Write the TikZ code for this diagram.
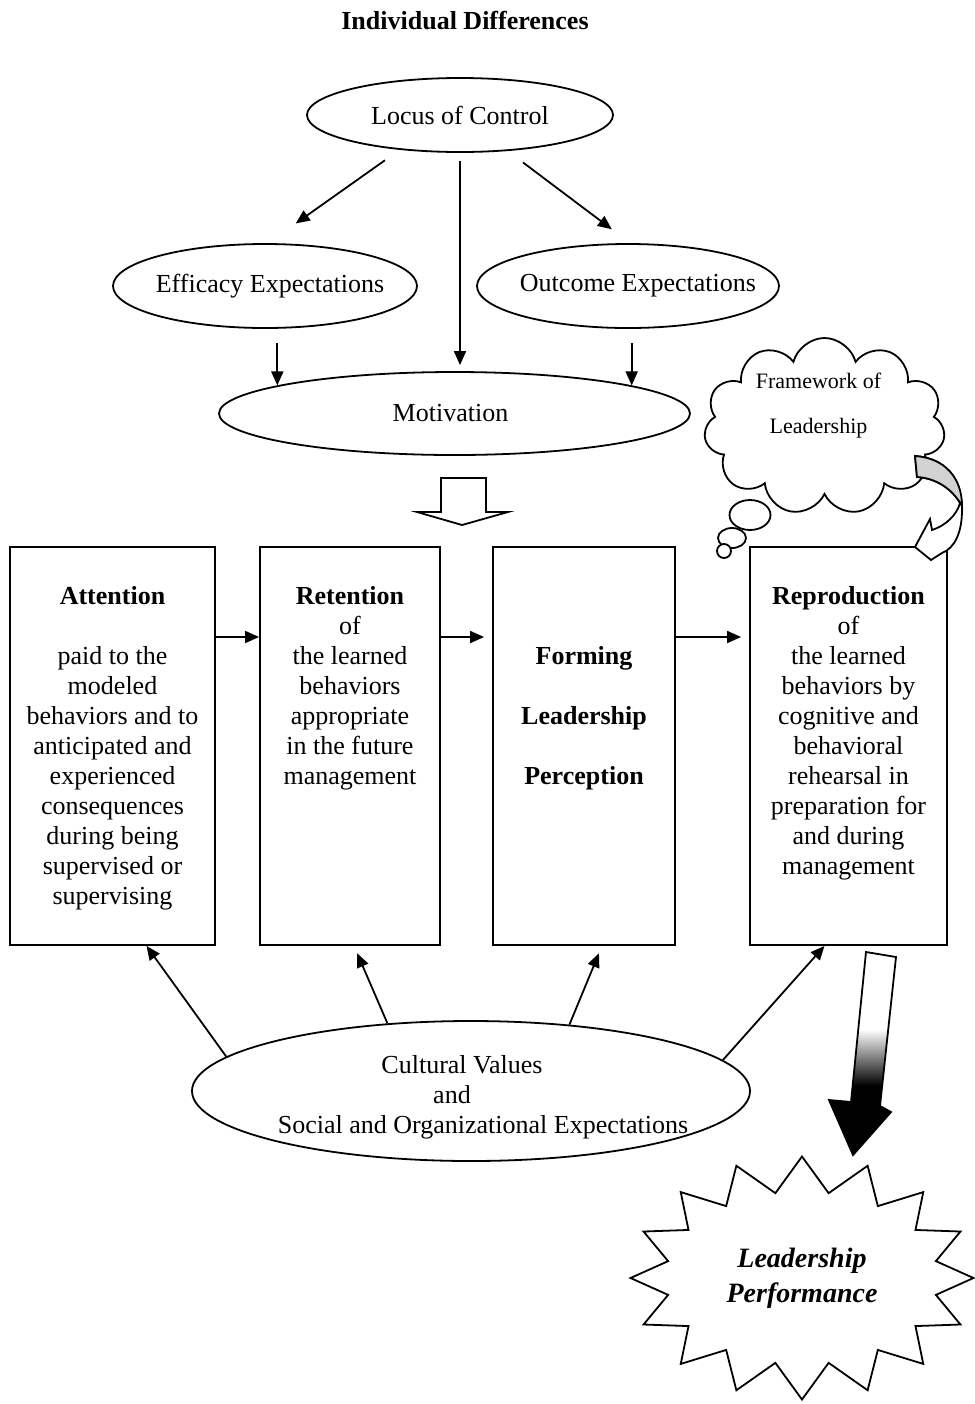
\documentclass[tikz,border=0pt]{standalone}
\usepackage{fontspec}
\setmainfont{Liberation Serif}
\usetikzlibrary{positioning,arrows.meta,shapes.geometric,shapes.symbols,calc}

% dark at the tip, fading to white towards the tail
\pgfdeclareverticalshading{sinkfade}{100bp}{color(0bp)=(black); color(42bp)=(black); color(56bp)=(white); color(100bp)=(white)}

\begin{document}
\begin{tikzpicture}[
        x=0.5pt, y=-0.5pt,
        line width=0.9pt,
        >={Triangle[length=7pt,width=6pt]},
        every node/.style={font=\fontsize{13}{15}\selectfont},
        oval/.style={draw, ellipse, inner xsep=-12pt, inner ysep=0pt, fill=white},
        stage/.style={draw, rectangle, minimum height=199pt, inner sep=0pt},
        stagetxt/.style={anchor=north, align=center, inner sep=0pt},
        link/.style={->}
    ]
        \useasboundingbox (0,0) rectangle (975,1404);

        \node[font=\fontsize{13}{15}\selectfont\bfseries] (title) at (465,20) {Individual Differences};

        % individual differences
        \node[oval, minimum width=153pt, minimum height=37pt] (locus) at (460,115) {Locus of Control};
        \node[oval, minimum width=152pt, minimum height=42pt] (eff)  at (265,286) {\hspace*{5pt}Efficacy Expectations};
        \node[oval, minimum width=151pt, minimum height=42pt] (outc) at (628,286) {\hspace*{10pt}Outcome Expectations};
        \node[oval, minimum width=235.5pt, minimum height=41.5pt] (motiv) at (454.5,413.5) {Motivation\hspace*{4pt}};

        \draw[link, shorten <=9pt, shorten >=17pt] (locus.210) -- (eff.86);
        \draw[link, shorten <=9.5pt, shorten >=11.5pt] (locus.323) -- (outc.87);
        \draw[link, shorten <=4pt, shorten >=3pt] (locus.south) -- (locus.south |- motiv.north);
        \draw[link, shorten <=7pt] (eff.south -| motiv.171) -- (motiv.171);
        \draw[link, shorten <=7pt] (outc.south -| motiv.9) -- (motiv.9);

        % hollow block arrow down to the stages
        \draw[fill=white] (441,478) -- (486,478) -- (486,512) -- (508,512) -- (462,525)
            -- (417,512) -- (441,512) -- cycle;

        % the four stages
        \node[stage, minimum width=102.5pt] (att)  at (112.5,746) {};
        \node[stage, minimum width=90pt]    (ret)  at (350,746) {};
        \node[stage, minimum width=91pt]    (form) at (584,746) {};
        \node[stage, minimum width=98.5pt]  (repr) at (848.5,746) {};

        \node[stagetxt] (attT) at ([yshift=-19.5pt]att.north)
            {\textbf{Attention}\\[15pt]paid to the\\modeled\\behaviors and to\\anticipated and\\experienced\\consequences\\during being\\supervised or\\supervising};
        \node[stagetxt] (retT) at ([yshift=-19.5pt]ret.north)
            {\textbf{Retention}\\of\\the learned\\behaviors\\appropriate\\in the future\\management};
        \node[stagetxt, font=\fontsize{13}{15}\selectfont\bfseries] (formT) at ([yshift=-49.5pt]form.north)
            {Forming\\[15pt]Leadership\\[15pt]Perception};
        \node[stagetxt] (reprT) at ([yshift=-19.5pt]repr.north)
            {\textbf{Reproduction}\\of\\the learned\\behaviors by\\cognitive and\\behavioral\\rehearsal in\\preparation for\\and during\\management};

        \draw[link] ([yshift=54.5pt]att.east) -- ([yshift=54.5pt]ret.west);
        \draw[link, shorten >=4pt] ([yshift=54.5pt]ret.east) -- ([yshift=54.5pt]form.west);
        \draw[link, shorten >=4pt] ([yshift=54.5pt]form.east) -- ([yshift=54.5pt]repr.west);

        % cultural values feed every stage
        \node[oval, minimum width=279pt, minimum height=70pt, align=center] (cult) at (471,1091)
            {\rule{0pt}{15.5pt}Cultural Values\rule{9pt}{0pt}\\and\rule{19pt}{0pt}\\\rule{12pt}{0pt}Social and Organizational Expectations};
        \draw[link] (cult.172) -- ([xshift=17pt]att.south);
        \draw[link, shorten >=4pt] (cult.141) -- ([xshift=2pt]ret.south);
        \draw[link, shorten >=4pt] (cult.34) -- ([xshift=9pt]form.south);
        \draw[link] (cult.7) -- ([xshift=-12pt]repr.south);

        % thought cloud
        \node[draw, fill=white, cloud, cloud puffs=11, aspect=1.4, inner sep=0pt,
              minimum width=120.5pt, minimum height=88.5pt] (frame) at (824.5,426.5) {};
        \node[font=\fontsize{11}{13}\selectfont, align=center] (frameT) at ([xshift=-3pt,yshift=10.5pt]frame.center)
            {Framework of\\[9.5pt]Leadership};
        \node[draw, fill=white, ellipse, inner sep=0pt, minimum width=20.5pt, minimum height=15pt] (bub1) at (750,515) {};
        \node[draw, fill=white, ellipse, inner sep=0pt, minimum width=14pt, minimum height=10pt] (bub2) at (732,538) {};
        \node[draw, fill=white, circle, inner sep=0pt, minimum size=7pt] (bub3) at (724,551) {};

        % curved arrow from the cloud onto reproduction
        \draw[fill=white] (915,456) .. controls (945,458) and (962,478) .. (962,510)
            .. controls (962,532) and (955,548) .. (942,553) -- (931,560) -- (915,547)
            -- (930,519) -- (932,530) .. controls (945,526) and (957,515) .. (960,503)
            .. controls (952,488) and (935,478) .. (917,477) -- cycle;
        \filldraw[fill=gray!35] (915,456) .. controls (945,458) and (962,478) .. (962,506)
            .. controls (952,488) and (935,478) .. (917,477) -- cycle;

        % outcome
        \node[draw, fill=white, starburst, starburst points=16, starburst point height=17.5pt,
              random starburst=0, minimum width=171.5pt, minimum height=121.5pt,
              align=center, font=\fontsize{14}{17.5}\selectfont\bfseries\itshape] (perf) at (802,1278)
            {Leadership\\Performance};

        \shadedraw[shading=sinkfade] (866,952) -- (896,957) -- (880,1106) -- (891,1112)
            -- (853,1155) -- (829,1100) -- (851,1102) -- cycle;
    \end{tikzpicture}
\end{document}
